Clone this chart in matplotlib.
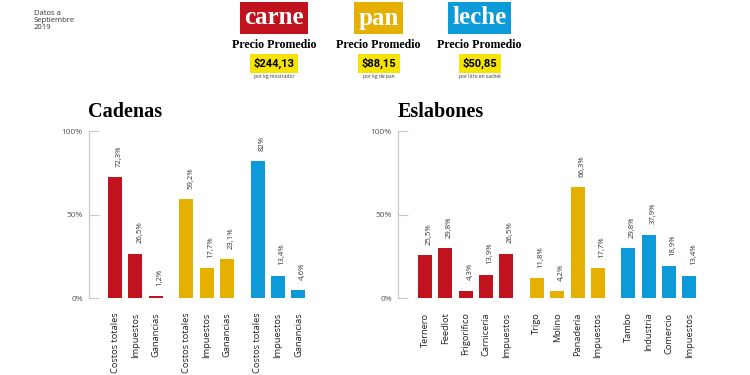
import matplotlib
matplotlib.use('Agg')
import matplotlib.pyplot as plt

# ================= DATA =================
productos = ['carne', 'pan', 'leche']
colores = ['#c1131d', '#e6b000', '#0c9ad8']
precios = ['$244,13', '$88,15', '$50,85']
unidades = ['por kg mostrador', 'por kg de pan', 'por litro en sachet']

cadenas_cats = [['Costos totales', 'Impuestos', 'Ganancias'],
                ['Costos totales', 'Impuestos', 'Ganancias'],
                ['Costos totales', 'Impuestos', 'Ganancias']]
cadenas_vals = [[72.3, 26.5, 1.2],
                [59.2, 17.7, 23.1],
                [82, 13.4, 4.6]]

eslabones_cats = [['Ternero', 'Feedlot', 'Frigorífico', 'Carnicería', 'Impuestos'],
                  ['Trigo', 'Molino', 'Panadería', 'Impuestos'],
                  ['Tambo', 'Industria', 'Comercio', 'Impuestos']]
eslabones_vals = [[25.5, 29.8, 4.3, 13.9, 26.5],
                  [11.8, 4.2, 66.3, 17.7],
                  [29.8, 37.9, 18.9, 13.4]]

yticks = [0, 50, 100]
ytick_labels = ['0%', '50%', '100%']
# ========================================

SANS = 'Open Sans'
SERIF = 'Liberation Serif'
GRAY = '#c8c8c8'

fig = plt.figure(figsize=(7.5, 3.75), dpi=100)
fig.patch.set_facecolor('white')


def bar_chart(ax, cats, vals, xlim_left):
    # groups separated by half a bar slot
    pos, x = [], 0.0
    for group in vals:
        pos.append([x + i for i in range(len(group))])
        x += len(group) + 0.5
    labels = []
    for g, (cs, vs) in enumerate(zip(cats, vals)):
        ax.bar(pos[g], vs, width=0.69, color=colores[g], zorder=2)
        for p, v in zip(pos[g], vs):
            ax.annotate(f'{v:g}%'.replace('.', ','), (p, v), xytext=(3, 7.5),
                        textcoords='offset points', rotation=90, ha='center',
                        va='bottom', fontsize=5.6, family=SANS, color='#333333')
        labels += cs
    flat = [p for g in pos for p in g]
    ax.set_xticks(flat)
    ax.set_xticklabels(labels, rotation=90, va='top', ha='center',
                       fontsize=6.7, family=SANS, color='#222222')
    ax.tick_params(axis='x', length=0, pad=10.5)
    ax.set_xlim(xlim_left, flat[-1] + 0.6)
    ax.set_ylim(0, 100)
    ax.set_yticks(yticks)
    ax.set_yticklabels(ytick_labels, fontsize=6, family=SANS, color='#555555')
    ax.tick_params(axis='y', direction='in', length=7, width=0.8, color=GRAY, pad=4.5)
    for s in ['top', 'right', 'bottom']:
        ax.spines[s].set_visible(False)
    ax.spines['left'].set_color(GRAY)
    ax.spines['left'].set_linewidth(0.9)
    ax.set_facecolor('none')


ax1 = fig.add_axes([0.1187, 0.2053, 0.2955, 0.4453])
bar_chart(ax1, cadenas_cats, cadenas_vals, -1.28)
ax2 = fig.add_axes([0.5307, 0.2053, 0.4047, 0.4453])
bar_chart(ax2, eslabones_cats, eslabones_vals, -1.33)

fig.text(0.1173, 0.702, 'Cadenas', fontsize=14.5, fontweight='bold', family=SERIF,
         va='center', ha='left')
fig.text(0.5300, 0.702, 'Eslabones', fontsize=14.5, fontweight='bold', family=SERIF,
         va='center', ha='left')

# Header
fig.text(0.045, 0.945, 'Datos a\nSeptiembre\n2019', fontsize=5.5, family=SANS,
         color='#333333', va='center', ha='left', linespacing=0.95)

centros = [0.365, 0.5047, 0.6395]
for c, prod, col, precio, unidad in zip(centros, productos, colores, precios, unidades):
    fig.text(c, 0.952, prod, fontsize=18, fontweight='bold', family=SERIF, color='white',
             ha='center', va='center',
             bbox=dict(boxstyle='square,pad=0.17', fc=col, ec='none'))
    fig.text(c, 0.88, 'Precio Promedio', fontsize=8.6, fontweight='bold', family=SERIF,
             ha='center', va='center')
    fig.text(c, 0.831, precio, fontsize=8, fontweight='bold', family='Roboto',
             ha='center', va='center',
             bbox=dict(boxstyle='square,pad=0.33', fc='#f6e300', ec='none'))
    fig.text(c, 0.796, unidad, fontsize=3.6, family=SANS, color='#333333',
             ha='center', va='center')

fig.savefig('out.png', dpi=100, facecolor='white')
